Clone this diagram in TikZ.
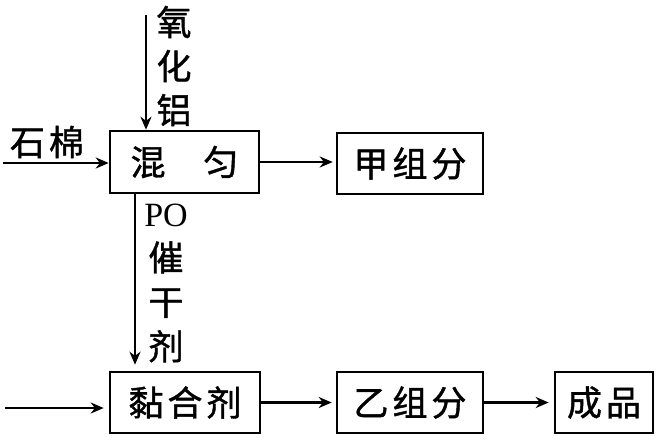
\documentclass[tikz,border=0pt]{standalone}
\usepackage{fontspec}
\setmainfont{Liberation Serif}
\newfontfamily\cjk{Noto Sans CJK SC}[FakeBold=1.2]
\usetikzlibrary{arrows.meta}
\tikzset{
  boxnode/.style={draw, line width=2.6pt, inner sep=0pt, font=\cjk\fontsize{35}{35}\selectfont},
  flow/.style={line width=2.2pt, -{Stealth[length=13pt,width=11pt]}},
  lbl/.style={inner sep=0pt, font=\cjk\fontsize{35}{44}\selectfont, align=center},
}
\newcommand{\gp}{\hspace{4pt}}
\begin{document}
\begin{tikzpicture}[x=1pt,y=-1pt]
\useasboundingbox (0,0) rectangle (661,439);
\node[boxnode, minimum width=149pt, minimum height=62pt] (mix) at (184.5,162) {混\hspace{38pt}匀};
\node[boxnode, minimum width=146pt, minimum height=61pt] (jia) at (410,163.5) {甲\gp 组\gp 分};
\node[boxnode, minimum width=150pt, minimum height=61pt] (nian) at (185,402.5) {黏\gp 合\gp 剂};
\node[boxnode, minimum width=146pt, minimum height=61pt] (yi) at (410,402.5) {乙\gp 组\gp 分};
\node[boxnode, minimum width=98pt, minimum height=61pt] (cp) at (604,402.5) {成\gp 品};

\node[lbl] (shimian) at (47,142) {石\gp 棉};
\node[lbl] (yhl) at (174,66) {氧\\化\\铝};
\node[lbl, font=\cjk\fontsize{35}{44.5}\selectfont] (po) at (166,283) {{\rmfamily\fontsize{34}{34}\selectfont PO}\\催\\干\\剂};

\coordinate (s1) at (3,163);
\coordinate (s2) at (146,15);
\coordinate (s3) at (135,0);
\coordinate (s4) at (5,408);

\draw[flow] (s1) -- (s1 -| mix.west);
\draw[flow] (s2) -- (s2 |- mix.north);
\draw[flow, shorten >=3pt] (mix.east) -- (mix.east -| jia.west);
\draw[flow, shorten >=6pt] (mix.south -| s3) -- (nian.north -| s3);
\draw[flow, shorten >=5pt] (s4) -- (s4 -| nian.west);
\draw[flow, shorten >=4pt] (nian.east) -- (yi.west);
\draw[flow, shorten >=5pt] (yi.east) -- (cp.west);
\end{tikzpicture}
\end{document}
